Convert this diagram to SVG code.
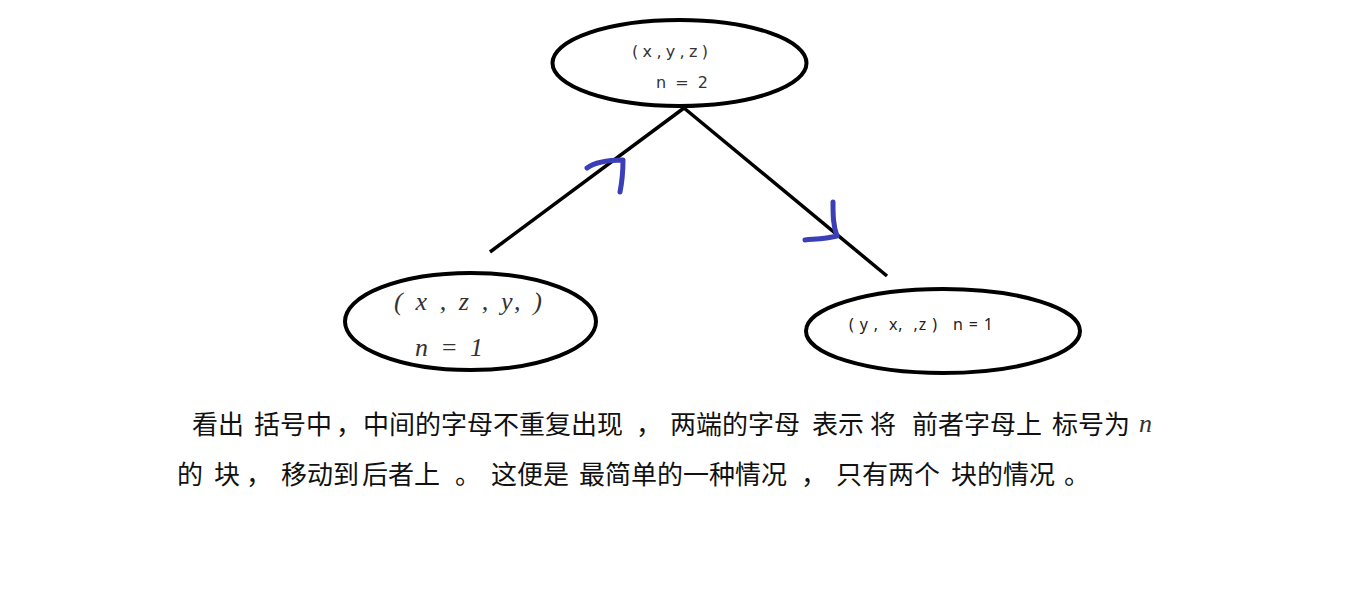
<svg xmlns="http://www.w3.org/2000/svg" width="1350" height="589" viewBox="0 0 1350 589">
<style>
.node{fill:#fff;stroke:#000;stroke-width:4}
.edge{stroke:#000;stroke-width:3.5;fill:none}
.mark{stroke:#3a3fb8;stroke-width:5;fill:none;stroke-linecap:round;stroke-linejoin:round}
.small{font-family:"DejaVu Sans",sans-serif;font-size:16px;fill:#333}
.hand{font-family:"Liberation Serif",serif;font-style:italic;font-size:26px;fill:#333}
.rt{font-family:"Noto Sans","Noto Sans CJK SC",sans-serif;font-size:16px;fill:#222}
.cn{font-family:"Noto Sans CJK SC",sans-serif;font-size:26px;fill:#111}
</style>
<rect width="1350" height="589" fill="#fff"/>
<g id="connectors">
<line class="edge" x1="684" y1="108" x2="490" y2="252"/>
<line class="edge" x1="684" y1="108" x2="887" y2="276"/>
<path class="mark" d="M587,168 C595,162 610,160 623,160 C623,172 622,182 620,192"/>
<path class="mark" d="M833,202 C833,215 833,225 837,236 C825,239 815,239 805,240"/>
</g>
<g id="node-top">
<ellipse class="node" cx="679.5" cy="63" rx="127" ry="43"/>
<text class="small" x="632" y="57" textLength="76" lengthAdjust="spacing">(x,y,z)</text>
<text class="small" x="656" y="88" xml:space="preserve" textLength="52" lengthAdjust="spacing">n = 2</text>
</g>
<g id="node-left">
<ellipse class="node" cx="470.5" cy="321.5" rx="125.5" ry="48.5"/>
<text class="hand" x="394" y="310" xml:space="preserve" textLength="148" lengthAdjust="spacing">( x , z , y, )</text>
<text class="hand" x="415" y="356" xml:space="preserve" textLength="68" lengthAdjust="spacing">n = 1</text>
</g>
<g id="node-right">
<ellipse class="node" cx="943" cy="331" rx="137" ry="42"/>
<text class="rt" x="849" y="330" xml:space="preserve" textLength="144" lengthAdjust="spacing">( y ,  x,  ,z )   n = 1</text>
</g>
<g id="caption">
<text class="cn" x="192" y="434">看出</text>
<text class="cn" x="254" y="434">括号中</text>
<text class="cn" x="336" y="434">，</text>
<text class="cn" x="363" y="434">中间的字母不重复出现</text>
<text class="cn" x="636" y="434">，</text>
<text class="cn" x="670" y="434">两端的字母</text>
<text class="cn" x="812" y="434">表示</text>
<text class="cn" x="870" y="434">将</text>
<text class="cn" x="912" y="434">前者字母上</text>
<text class="cn" x="1052" y="434">标号为</text>
<text class="hand" x="1139" y="432" font-size="22">n</text>
<text class="cn" x="177" y="484">的</text>
<text class="cn" x="214" y="484">块</text>
<text class="cn" x="246" y="484">，</text>
<text class="cn" x="281" y="484">移动到</text>
<text class="cn" x="362" y="484">后者上</text>
<text class="cn" x="455" y="484">。</text>
<text class="cn" x="491" y="484">这便是</text>
<text class="cn" x="579" y="484">最简单的一种情况</text>
<text class="cn" x="801" y="484">，</text>
<text class="cn" x="836" y="484">只有两个</text>
<text class="cn" x="951" y="484">块的情况</text>
<text class="cn" x="1064" y="484">。</text>
</g>
</svg>
